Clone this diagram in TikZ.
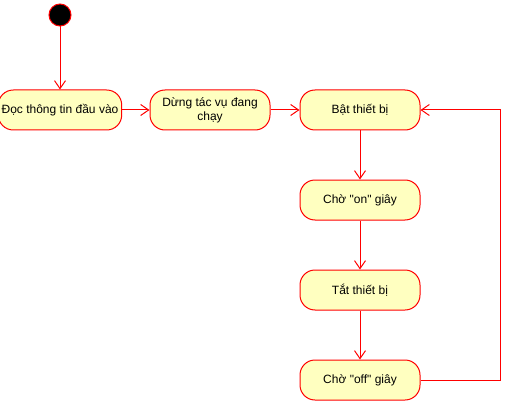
\documentclass[tikz,border=0pt]{standalone}
\usepackage{fontspec}
\setmainfont{Liberation Sans}
\usepackage{xcolor}
\usetikzlibrary{positioning,arrows.meta}

\definecolor{umlred}{HTML}{FF0000}
\definecolor{umlfill}{HTML}{FFFFC0}

\begin{document}
\begin{tikzpicture}[x=1pt, y=-1pt, node distance=90pt and 150pt, on grid,
    action/.style={rectangle, rounded corners=15pt, draw=umlred, fill=umlfill,
        line width=1pt, minimum width=120pt, minimum height=40pt,
        align=center, font=\fontsize{12}{14}\selectfont},
    start/.style={circle, draw=umlred, fill=black, line width=1pt,
        minimum size=22pt, inner sep=0pt},
    flow/.style={draw=umlred, line width=1pt,
        -{Straight Barb[length=8pt, width=11pt]}}]

    \useasboundingbox (0,0) rectangle (511,401);

    % start and input
    \node[start] (init) at (60,15) {};
    \node[action] (read) [below=95pt of init] {Đọc thông tin đầu vào};
    \node[action] (stop) [right=of read] {Dừng tác vụ đang\\chạy};

    % on/off cycle
    \node[action] (on) [right=of stop] {Bật thiết bị};
    \node[action] (waiton) [below=of on] {Chờ \textquotedbl on\textquotedbl{} giây};
    \node[action] (off) [below=of waiton] {Tắt thiết bị};
    \node[action] (waitoff) [below=of off] {Chờ \textquotedbl off\textquotedbl{} giây};

    \path[flow]
        (init) edge (read)
        (read) edge (stop)
        (stop) edge (on)
        (on) edge (waiton)
        (waiton) edge (off)
        (off) edge (waitoff);

    % back to start of cycle
    \draw[flow] (waitoff.east) -- ++(80,0) |- (on.east);

\end{tikzpicture}
\end{document}
